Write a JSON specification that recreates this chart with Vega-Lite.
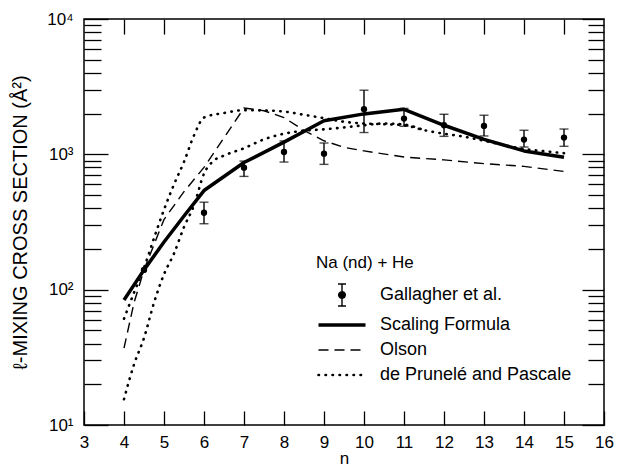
{
  "$schema": "https://vega.github.io/schema/vega-lite/v6.json",
  "width": 520,
  "height": 406,
  "autosize": "none",
  "padding": {"left": 84, "top": 19, "right": 19, "bottom": 45},
  "background": "white",
  "config": {
    "font": "Liberation Sans",
    "view": {"stroke": "black", "strokeWidth": 1.5},
    "axis": {"domain": false, "grid": false, "tickColor": "black", "labelColor": "black", "titleColor": "black", "titleFontWeight": "normal", "labelOverlap": false, "labelBound": false, "labelFlush": false}
  },
  "datasets": {
    "points": [
      {"n": 4.5, "v": 140, "lo": null, "hi": null},
      {"n": 6, "v": 370, "lo": 307, "hi": 443},
      {"n": 7, "v": 797, "lo": 687, "hi": 891},
      {"n": 8, "v": 1040, "lo": 877, "hi": 1256},
      {"n": 9, "v": 1012, "lo": 843, "hi": 1213},
      {"n": 10, "v": 2154, "lo": 1449, "hi": 2977},
      {"n": 11, "v": 1837, "lo": 1611, "hi": 2184},
      {"n": 12, "v": 1641, "lo": 1358, "hi": 1977},
      {"n": 13, "v": 1622, "lo": 1367, "hi": 1945},
      {"n": 14, "v": 1285, "lo": 1132, "hi": 1506},
      {"n": 15, "v": 1330, "lo": 1146, "hi": 1538}
    ],
    "scaling": [
      {"series": "Scaling Formula", "n": 4, "v": 84},
      {"series": "Scaling Formula", "n": 4.5, "v": 140},
      {"series": "Scaling Formula", "n": 5, "v": 225},
      {"series": "Scaling Formula", "n": 5.5, "v": 350},
      {"series": "Scaling Formula", "n": 6, "v": 540},
      {"series": "Scaling Formula", "n": 7, "v": 870},
      {"series": "Scaling Formula", "n": 8, "v": 1230},
      {"series": "Scaling Formula", "n": 9, "v": 1770},
      {"series": "Scaling Formula", "n": 10, "v": 1990},
      {"series": "Scaling Formula", "n": 11, "v": 2150},
      {"series": "Scaling Formula", "n": 12, "v": 1640},
      {"series": "Scaling Formula", "n": 13, "v": 1290},
      {"series": "Scaling Formula", "n": 14, "v": 1060},
      {"series": "Scaling Formula", "n": 15, "v": 950}
    ],
    "olson": [
      {"series": "Olson", "n": 4, "v": 37},
      {"series": "Olson", "n": 4.25, "v": 80},
      {"series": "Olson", "n": 4.5, "v": 140},
      {"series": "Olson", "n": 5, "v": 330},
      {"series": "Olson", "n": 5.5, "v": 530},
      {"series": "Olson", "n": 6, "v": 800},
      {"series": "Olson", "n": 7, "v": 2200},
      {"series": "Olson", "n": 7.5, "v": 2100},
      {"series": "Olson", "n": 8, "v": 1870},
      {"series": "Olson", "n": 8.5, "v": 1500},
      {"series": "Olson", "n": 9, "v": 1260},
      {"series": "Olson", "n": 9.5, "v": 1125},
      {"series": "Olson", "n": 10, "v": 1060},
      {"series": "Olson", "n": 11, "v": 955},
      {"series": "Olson", "n": 12, "v": 910},
      {"series": "Olson", "n": 13, "v": 853},
      {"series": "Olson", "n": 14, "v": 815},
      {"series": "Olson", "n": 15, "v": 748}
    ],
    "dp": [
      {"series": "de Prunelé and Pascale", "curve": "a", "n": 4, "v": 61},
      {"series": "de Prunelé and Pascale", "curve": "a", "n": 4.25, "v": 95},
      {"series": "de Prunelé and Pascale", "curve": "a", "n": 4.5, "v": 145},
      {"series": "de Prunelé and Pascale", "curve": "a", "n": 4.75, "v": 240},
      {"series": "de Prunelé and Pascale", "curve": "a", "n": 5, "v": 390},
      {"series": "de Prunelé and Pascale", "curve": "a", "n": 5.25, "v": 600},
      {"series": "de Prunelé and Pascale", "curve": "a", "n": 5.5, "v": 880},
      {"series": "de Prunelé and Pascale", "curve": "a", "n": 5.75, "v": 1380},
      {"series": "de Prunelé and Pascale", "curve": "a", "n": 6, "v": 1870},
      {"series": "de Prunelé and Pascale", "curve": "a", "n": 6.5, "v": 2020},
      {"series": "de Prunelé and Pascale", "curve": "a", "n": 7, "v": 2120},
      {"series": "de Prunelé and Pascale", "curve": "a", "n": 7.5, "v": 2110},
      {"series": "de Prunelé and Pascale", "curve": "a", "n": 8, "v": 2070},
      {"series": "de Prunelé and Pascale", "curve": "a", "n": 8.5, "v": 1960},
      {"series": "de Prunelé and Pascale", "curve": "a", "n": 9, "v": 1850},
      {"series": "de Prunelé and Pascale", "curve": "a", "n": 9.5, "v": 1740},
      {"series": "de Prunelé and Pascale", "curve": "a", "n": 10, "v": 1690},
      {"series": "de Prunelé and Pascale", "curve": "a", "n": 10.5, "v": 1670},
      {"series": "de Prunelé and Pascale", "curve": "a", "n": 11, "v": 1640},
      {"series": "de Prunelé and Pascale", "curve": "a", "n": 11.5, "v": 1510},
      {"series": "de Prunelé and Pascale", "curve": "a", "n": 12, "v": 1420},
      {"series": "de Prunelé and Pascale", "curve": "a", "n": 12.5, "v": 1350},
      {"series": "de Prunelé and Pascale", "curve": "a", "n": 13, "v": 1260},
      {"series": "de Prunelé and Pascale", "curve": "a", "n": 13.5, "v": 1170},
      {"series": "de Prunelé and Pascale", "curve": "a", "n": 14, "v": 1095},
      {"series": "de Prunelé and Pascale", "curve": "a", "n": 14.5, "v": 1055},
      {"series": "de Prunelé and Pascale", "curve": "a", "n": 15, "v": 1020},
      {"series": "de Prunelé and Pascale", "curve": "b", "n": 4, "v": 15.5},
      {"series": "de Prunelé and Pascale", "curve": "b", "n": 4.25, "v": 28},
      {"series": "de Prunelé and Pascale", "curve": "b", "n": 4.5, "v": 44},
      {"series": "de Prunelé and Pascale", "curve": "b", "n": 4.75, "v": 80},
      {"series": "de Prunelé and Pascale", "curve": "b", "n": 5, "v": 130},
      {"series": "de Prunelé and Pascale", "curve": "b", "n": 5.25, "v": 185},
      {"series": "de Prunelé and Pascale", "curve": "b", "n": 5.5, "v": 290},
      {"series": "de Prunelé and Pascale", "curve": "b", "n": 5.75, "v": 420},
      {"series": "de Prunelé and Pascale", "curve": "b", "n": 6, "v": 720},
      {"series": "de Prunelé and Pascale", "curve": "b", "n": 6.25, "v": 900},
      {"series": "de Prunelé and Pascale", "curve": "b", "n": 6.5, "v": 980},
      {"series": "de Prunelé and Pascale", "curve": "b", "n": 7, "v": 1110},
      {"series": "de Prunelé and Pascale", "curve": "b", "n": 7.5, "v": 1290},
      {"series": "de Prunelé and Pascale", "curve": "b", "n": 8, "v": 1420},
      {"series": "de Prunelé and Pascale", "curve": "b", "n": 8.5, "v": 1495},
      {"series": "de Prunelé and Pascale", "curve": "b", "n": 9, "v": 1530},
      {"series": "de Prunelé and Pascale", "curve": "b", "n": 9.5, "v": 1580},
      {"series": "de Prunelé and Pascale", "curve": "b", "n": 10, "v": 1640},
      {"series": "de Prunelé and Pascale", "curve": "b", "n": 10.5, "v": 1690},
      {"series": "de Prunelé and Pascale", "curve": "b", "n": 11, "v": 1660},
      {"series": "de Prunelé and Pascale", "curve": "b", "n": 11.5, "v": 1510}
    ]
  },
  "layer": [
    {
      "data": {"name": "points"},
      "mark": {"type": "rule", "color": "black", "strokeWidth": 1.4},
      "encoding": {
        "x": {"field": "n", "type": "quantitative", "scale": {"domain": [3, 16], "nice": false, "zero": false},
          "axis": {"orient": "bottom", "values": [3,4,5,6,7,8,9,10,11,12,13,14,15,16], "tickSize": -14, "tickWidth": 1.3, "labelFontSize": 17, "labelPadding": 23, "title": "n", "titleFontSize": 17, "titlePadding": 0}},
        "y": {"field": "lo", "type": "quantitative", "scale": {"type": "log", "domain": [10, 10000], "nice": false},
          "axis": {"orient": "left", "values": [10,20,30,40,50,60,70,80,90,100,200,300,400,500,600,700,800,900,1000,2000,3000,4000,5000,6000,7000,8000,9000,10000],
            "tickSize": {"condition": {"test": "indexof([10,100,1000,10000], datum.value) >= 0", "value": -24}, "value": -17},
            "tickWidth": 1.3, "labelFontSize": 17, "labelPadding": 35,
            "labelExpr": "datum.value == 10 ? '10¹' : datum.value == 100 ? '10²' : datum.value == 1000 ? '10³' : datum.value == 10000 ? '10⁴' : ''",
            "title": "ℓ-MIXING CROSS SECTION (Å²)", "titleFontSize": 20, "titleX": -64, "titleBaseline": "middle"}},
        "y2": {"field": "hi"}
      }
    },
    {
      "data": {"name": "points"},
      "mark": {"type": "tick", "orient": "horizontal", "color": "black", "size": 9, "thickness": 1.4},
      "encoding": {
        "x": {"field": "n", "type": "quantitative",
          "axis": {"orient": "top", "values": [4,5,6,7,8,9,10,11,12,13,14,15], "tickSize": -15, "tickWidth": 1.3, "labels": false, "title": null}},
        "y": {"field": "lo", "type": "quantitative",
          "axis": {"orient": "right", "values": [10,20,30,40,50,60,70,80,90,100,200,300,400,500,600,700,800,900,1000,2000,3000,4000,5000,6000,7000,8000,9000,10000],
            "tickSize": {"condition": {"test": "indexof([10,100,1000,10000], datum.value) >= 0", "value": -22}, "value": -16},
            "tickWidth": 1.3, "labels": false, "title": null}}
      }
    },
    {
      "data": {"name": "points"},
      "mark": {"type": "tick", "orient": "horizontal", "color": "black", "size": 9, "thickness": 1.4},
      "encoding": {
        "x": {"field": "n", "type": "quantitative", "axis": null},
        "y": {"field": "hi", "type": "quantitative", "axis": null}
      }
    },
    {
      "data": {"name": "points"},
      "mark": {"type": "circle", "color": "black", "size": 40, "opacity": 1},
      "encoding": {
        "x": {"field": "n", "type": "quantitative", "axis": null},
        "y": {"field": "v", "type": "quantitative", "axis": null}
      }
    },
    {
      "data": {"name": "scaling"},
      "mark": {"type": "line", "strokeWidth": 3.5, "strokeJoin": "round"},
      "encoding": {
        "x": {"field": "n", "type": "quantitative", "axis": null},
        "y": {"field": "v", "type": "quantitative", "axis": null},
        "color": {"field": "series", "type": "nominal",
          "scale": {"domain": ["Gallagher et al.", "Scaling Formula", "Olson", "de Prunelé and Pascale"], "range": ["black", "black", "black", "black"]},
          "legend": {"orient": "none", "legendX": 232, "legendY": 236, "title": "Na (nd) + He", "titleFontSize": 17, "titleFontWeight": "normal", "titleColor": "black", "titlePadding": 14, "titleLimit": 0, "titleAnchor": "start", "titleAlign": "left",
            "labelFontSize": 18, "labelColor": "black", "labelOffset": 29, "labelLimit": 0, "symbolOffset": 17, "symbolSize": 2209, "symbolType": "stroke", "rowPadding": 7, "padding": 0,
            "encode": {"symbols": {"update": {
              "shape": {"signal": "datum.value === 'Gallagher et al.' ? 'M0,-0.47L0,0.47M-0.17,-0.47L0.17,-0.47M-0.17,0.47L0.17,0.47M-0.14,0A0.14,0.14 0 1,0 0.14,0A0.14,0.14 0 1,0 -0.14,0Z' : 'stroke'"},
              "strokeDash": {"signal": "datum.value === 'Olson' ? [10, 6] : datum.value === 'de Prunelé and Pascale' ? [0.5, 6.5] : [1, 0]"},
              "strokeWidth": {"signal": "datum.value === 'Scaling Formula' ? 3.5 : datum.value === 'de Prunelé and Pascale' ? 2.6 : 1.4"},
              "strokeCap": {"signal": "datum.value === 'de Prunelé and Pascale' ? 'round' : 'butt'"},
              "fill": {"signal": "datum.value === 'Gallagher et al.' ? 'black' : 'transparent'"},
              "stroke": {"value": "black"},
              "opacity": {"value": 1}
            }}}}
        }
      }
    },
    {
      "data": {"name": "olson"},
      "mark": {"type": "line", "strokeWidth": 1.4, "strokeDash": [10, 6]},
      "encoding": {
        "x": {"field": "n", "type": "quantitative", "axis": null},
        "y": {"field": "v", "type": "quantitative", "axis": null},
        "color": {"field": "series", "type": "nominal"}
      }
    },
    {
      "data": {"name": "dp"},
      "mark": {"type": "line", "strokeWidth": 2.6, "strokeDash": [0.5, 6.5], "strokeCap": "round", "interpolate": "monotone"},
      "encoding": {
        "x": {"field": "n", "type": "quantitative", "axis": null},
        "y": {"field": "v", "type": "quantitative", "axis": null},
        "detail": {"field": "curve"},
        "color": {"field": "series", "type": "nominal"}
      }
    }
  ],
  "resolve": {"axis": {"x": "independent", "y": "independent"}}
}
